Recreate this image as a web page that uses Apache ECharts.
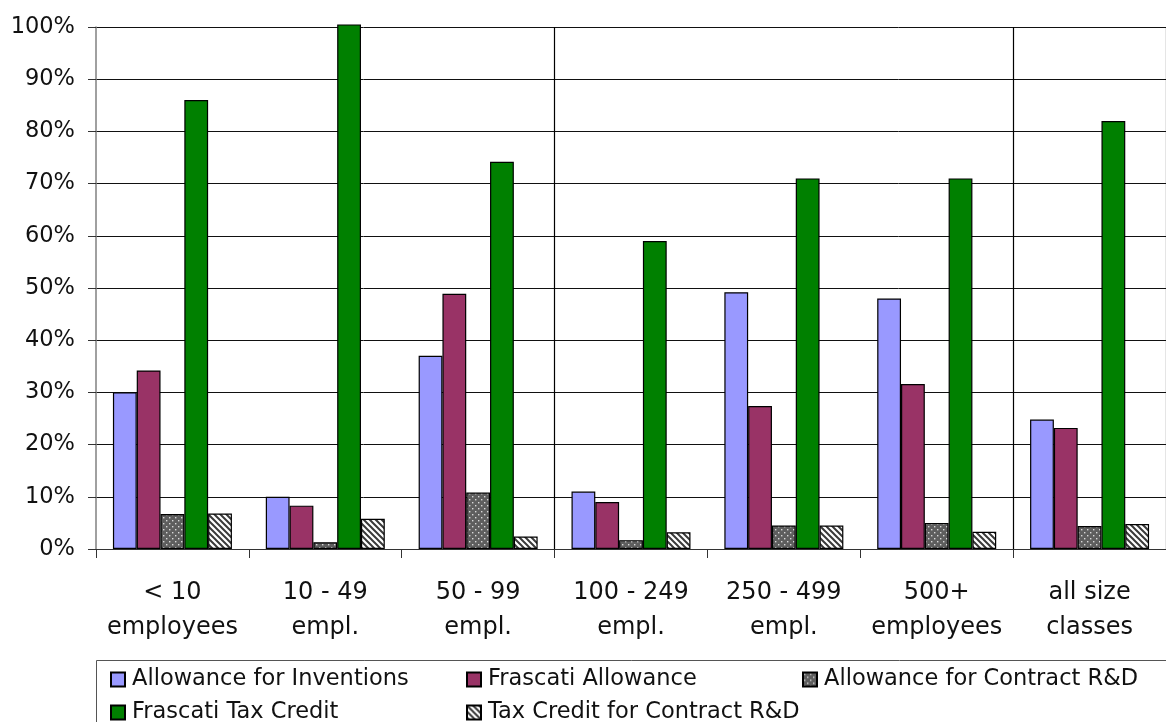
<!DOCTYPE html>
<html>
<head>
<meta charset="utf-8">
<script src="https://cdn.jsdelivr.net/npm/echarts@6/dist/echarts.min.js"></script>
<style>
  html, body { margin: 0; padding: 0; background: #fff; }
  #chart { width: 1166px; height: 722px; }
</style>
</head>
<body>
<div id="chart"></div>
<script>
// Size classes (x axis)
const categories = ['< 10\nemployees', '10 - 49\nempl.', '50 - 99\nempl.', '100 - 249\nempl.', '250 - 499\nempl.', '500+\nemployees', 'all size\nclasses'];

// Share of firms using each instrument, in percent
const allowanceInventions = [30, 10, 37, 11, 49.2, 48, 24.8];
const frascatiAllowance   = [34.2, 8.3, 48.9, 9, 27.4, 31.6, 23.2];
const allowanceContract   = [6.7, 1.3, 10.8, 1.7, 4.5, 5, 4.4];
const frascatiTaxCredit   = [86, 100.5, 74.2, 59, 71, 71, 82];
const taxCreditContract   = [6.8, 5.8, 2.4, 3.2, 4.5, 3.3, 4.8];

const seriesNames = ['Allowance for Inventions', 'Frascati Allowance', 'Allowance for Contract R&D', 'Frascati Tax Credit', 'Tax Credit for Contract R&D'];

// y axis ticks
const yMin = 0, yMax = 100, yStep = 10;

const FONT = 'DejaVu Sans';

// Fill patterns
function dotPattern() {
  const c = document.createElement('canvas');
  c.width = 6; c.height = 6;
  const g = c.getContext('2d');
  g.fillStyle = '#5e5e5e';
  g.fillRect(0, 0, 6, 6);
  g.fillStyle = '#d8d8d8';
  g.fillRect(1, 1, 1.4, 1.4);
  g.fillRect(4, 4, 1.4, 1.4);
  return { image: c, repeat: 'repeat' };
}
function hatchPattern() {
  const c = document.createElement('canvas');
  const s = 6;
  c.width = s; c.height = s;
  const g = c.getContext('2d');
  g.fillStyle = '#ffffff';
  g.fillRect(0, 0, s, s);
  g.strokeStyle = '#3a3a3a';
  g.lineWidth = 2;
  g.beginPath();
  g.moveTo(-1, -1); g.lineTo(s + 1, s + 1);
  g.moveTo(-1, s - 1); g.lineTo(1, s + 1);
  g.moveTo(s - 1, -1); g.lineTo(s + 1, 1);
  g.stroke();
  return { image: c, repeat: 'repeat' };
}

const fills = ['#9999FF', '#993366', dotPattern(), '#008000', hatchPattern()];
const values = [allowanceInventions, frascatiAllowance, allowanceContract, frascatiTaxCredit, taxCreditContract];

// Legend layout: three columns, two rows
const legendSlots = [
  { left: 110, top: 668 },
  { left: 466, top: 668 },
  { left: 802, top: 668 },
  { left: 110, top: 701 },
  { left: 466, top: 701 }
];

const chart = echarts.init(document.getElementById('chart'), null, { renderer: 'canvas' });

chart.setOption({
  animation: false,
  backgroundColor: '#fff',
  grid: { left: 96, top: 27, width: 1080, bottom: 173, containLabel: false },
  legend: seriesNames.map((name, i) => ({
    left: legendSlots[i].left,
    top: legendSlots[i].top,
    padding: 0,
    icon: 'rect',
    itemWidth: 14,
    itemHeight: 14,
    selectedMode: false,
    data: [name],
    textStyle: { fontFamily: FONT, fontSize: 22.5, color: '#111', lineHeight: 20, padding: [0, 0, 0, 2] }
  })),
  graphic: [{
    type: 'rect',
    shape: { x: 96.5, y: 660.5, width: 1100, height: 100 },
    style: { fill: 'none', stroke: '#555', lineWidth: 1 },
    z: -1
  }],
  xAxis: {
    type: 'category',
    data: categories,
    axisLine: { lineStyle: { color: '#333', width: 1 } },
    axisTick: { show: true, length: 9, interval: 0, lineStyle: { color: '#333' } },
    axisLabel: { interval: 0, margin: 26, fontFamily: FONT, fontSize: 24, lineHeight: 35, color: '#111' },
    splitLine: {
      show: true,
      interval: function (index) { return index === 3 || index === 6; },
      lineStyle: { color: '#000', width: 1.2 }
    }
  },
  yAxis: {
    type: 'value',
    min: yMin, max: yMax, interval: yStep,
    axisLine: { show: true, lineStyle: { color: '#808080', width: 1.5 } },
    axisTick: { show: true, length: 8, lineStyle: { color: '#333' } },
    axisLabel: { formatter: '{value}%', margin: 21, fontFamily: FONT, fontSize: 22.5, color: '#111' },
    splitLine: { show: true, lineStyle: { color: '#111', width: 1 } }
  },
  series: seriesNames.map((name, i) => ({
    name: name,
    type: 'bar',
    data: values[i],
    barWidth: 23.8,
    barGap: '0%',
    clip: false,
    itemStyle: { color: fills[i], borderColor: '#000', borderWidth: 1.2 }
  }))
});
</script>
</body>
</html>
